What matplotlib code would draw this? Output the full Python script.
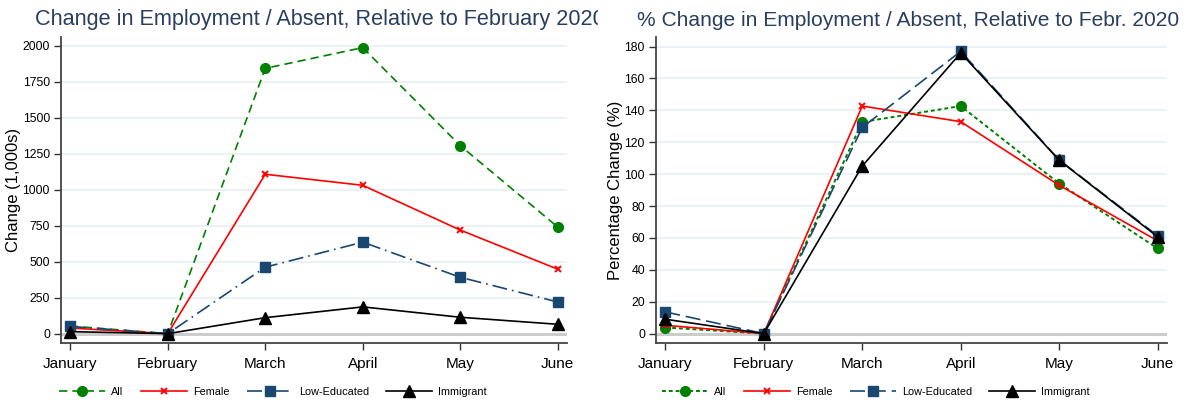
import matplotlib
matplotlib.use("Agg")
import matplotlib.pyplot as plt
from matplotlib.transforms import Bbox

plt.rcParams['font.family'] = ['Liberation Sans', 'DejaVu Sans']

months = ["January", "February", "March", "April", "May", "June"]
series = ["All", "Female", "Low-Educated", "Immigrant"]

abs_all = [53, 0, 1844, 1988, 1307, 741]
abs_female = [39, 0, 1108, 1031, 720, 448]
abs_loweduc = [50, 0, 462, 636, 392, 220]
abs_immig = [14, 0, 111, 186, 114, 65]

pct_all = [3.8, 0, 132.7, 142.7, 94.1, 53.4]
pct_female = [5.2, 0, 142.7, 132.9, 93.0, 58.2]
pct_loweduc = [13.6, 0, 129.3, 177.0, 108.9, 61.3]
pct_immig = [9.0, 0, 105.1, 176.0, 108.7, 60.7]

left_ticks = [0, 250, 500, 750, 1000, 1250, 1500, 1750, 2000]
right_ticks = [0, 20, 40, 60, 80, 100, 120, 140, 160, 180]

GREEN = "#008000"
RED = "#ff0000"
NAVY = "#1a476f"
BLACK = "#000000"
TITLE_C = "#2a3f5f"

fig = plt.figure(figsize=(11.9, 4.0), dpi=100)
W, H = 1190, 400

def ax_at(x0, y0, x1, y1):
    return fig.add_axes([x0 / W, 1 - y1 / H, (x1 - x0) / W, (y1 - y0) / H])

axL = ax_at(61, 37, 567, 343)
axR = ax_at(656, 37, 1167, 343)

x = list(range(len(months)))

def style(ax, ticks, ylim, ylabel, lx):
    ax.set_xlim(-0.095, 5.095)
    ax.set_ylim(*ylim)
    ax.set_yticks(ticks)
    ax.set_xticks(x)
    ax.set_xticklabels(months, fontsize=11)
    ax.tick_params(axis='y', labelsize=8.8, length=5, width=1, color="#333333", pad=3)
    ax.tick_params(axis='x', length=5, width=1, color="#333333", pad=5)
    for s in ['top', 'right']:
        ax.spines[s].set_visible(False)
    for s in ['left', 'bottom']:
        ax.spines[s].set_color("#444444")
        ax.spines[s].set_linewidth(1.3)
    ax.grid(axis='y', color="#e8eff2", linewidth=1.2)
    ax.set_axisbelow(True)
    ax.axhline(0, color="#cccccc", linewidth=2.2, zorder=1)
    ax.set_ylabel(ylabel, fontsize=12)
    ax.yaxis.set_label_coords(lx, 0.5)

# Left panel
axL.plot(x, abs_all, color=GREEN, ls=(0, (5, 3)), lw=1.2, marker='o', ms=7, label="All", zorder=3)
axL.plot(x, abs_female, color=RED, ls='-', lw=1.2, marker='x', ms=5, mew=1.4, label="Female", zorder=3)
axL.plot(x, abs_loweduc, color=NAVY, ls=(0, (9, 3, 1, 3)), lw=1.2, marker='s', ms=7, label="Low-Educated", zorder=3)
axL.plot(x, abs_immig, color=BLACK, ls='-', lw=1.2, marker='^', ms=8, label="Immigrant", zorder=4)
style(axL, left_ticks, (-65, 2062), "Change (1,000s)", -0.079)

# Right panel
axR.plot(x, pct_all, color=GREEN, ls=(0, (2, 1.5)), lw=1.4, marker='o', ms=7, label="All", zorder=3)
axR.plot(x, pct_female, color=RED, ls='-', lw=1.2, marker='x', ms=5, mew=1.4, label="Female", zorder=3)
axR.plot(x, pct_loweduc, color=NAVY, ls=(0, (9, 3.5)), lw=1.2, marker='s', ms=7, label="Low-Educated", zorder=3)
axR.plot(x, pct_immig, color=BLACK, ls='-', lw=1.2, marker='^', ms=8, label="Immigrant", zorder=4)
style(axR, right_ticks, (-5.9, 186), "Percentage Change (%)", -0.064)

# Legends
for ax, cx in ((axL, 273 / W), (axR, 876 / W)):
    fig.legend(*ax.get_legend_handles_labels(), loc='center', bbox_to_anchor=(cx, 1 - 392 / H),
               ncol=4, frameon=False, fontsize=7.8, handlelength=4.25, handletextpad=0.55,
               columnspacing=1.6, borderaxespad=0, borderpad=0)

# Titles
tL = fig.text(35 / W, 1 - 20 / H, "Change in Employment / Absent, Relative to February 2020",
              fontsize=15.6, color=TITLE_C, ha='left', va='center')
tL.set_clip_box(Bbox.from_extents(0, 0, 598, H))
tL.set_clip_on(True)
fig.text(637 / W, 1 - 20 / H, "% Change in Employment / Absent, Relative to Febr. 2020",
         fontsize=15.1, color=TITLE_C, ha='left', va='center')

fig.savefig("out.png", dpi=100)
